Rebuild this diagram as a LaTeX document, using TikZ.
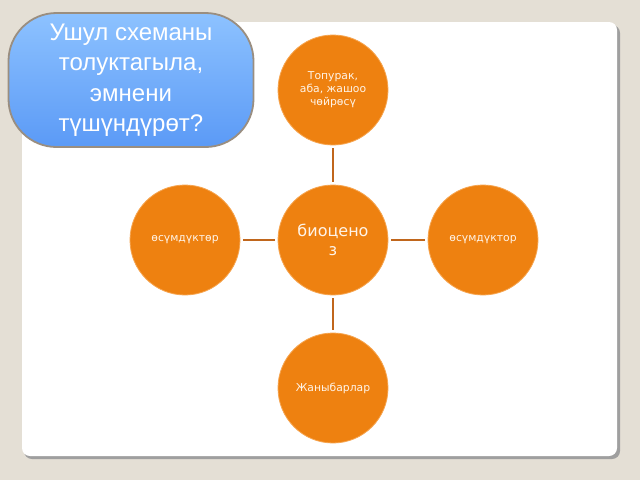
\documentclass[tikz,border=0pt]{standalone}
\usepackage{fontspec}
\setmainfont{DejaVu Sans}
\newfontfamily\calloutfont{Liberation Sans}
\usetikzlibrary{shadings}
\definecolor{bgc}{HTML}{E4DFD5}
\definecolor{orc}{HTML}{EE8110}
\definecolor{orb}{HTML}{F6A550}
\definecolor{lnc}{HTML}{C0661C}
\definecolor{bltop}{HTML}{8DC2FF}
\definecolor{blbot}{HTML}{5B9AF6}
\definecolor{blbd}{HTML}{9A8E80}
\definecolor{txc}{HTML}{FFF4E8}
\tikzset{
  circ/.style={circle, fill=orc, draw=orb, line width=0.8pt, minimum size=110pt, inner sep=0pt, align=center, text=txc, font=\fontsize{10.8}{13}\selectfont},
  conn/.style={draw=lnc, line width=2.6pt}
}
\begin{document}
\begin{tikzpicture}[x=1pt,y=-1pt]
\path[fill=bgc] (0,0) rectangle (640,480);
\useasboundingbox (0,0) rectangle (640,480);
% panel shadow and panel
\path[fill=gray!75, rounded corners=8pt] (24,25) rectangle (620,459);
\path[fill=white, rounded corners=8pt] (22,22) rectangle (617,456);
% circles
\node[circ] (top) at (333,90) {Топурак,\\аба, жашоо\\чөйрөсү};
\node[circ, font=\fontsize{16}{19}\selectfont] (mid) at (333,240) {биоцено\\з};
\node[circ] (left) at (185,240) {өсүмдүктөр};
\node[circ] (right) at (483,240) {өсүмдүктор};
\node[circ] (bot) at (333,388) {Жаныбарлар};
% connectors
\path[conn] ([yshift=-3pt]top.south) -- ([yshift=3pt]mid.north);
\path[conn] ([yshift=3pt]bot.north) -- ([yshift=-3pt]mid.south);
\path[conn] ([xshift=3pt]left.east) -- ([xshift=-3pt]mid.west);
\path[conn] ([xshift=3pt]mid.east) -- ([xshift=-3pt]right.west);
% callout
\node[rounded corners=48pt, top color=bltop, bottom color=blbot, draw=blbd, line width=1.8pt,
  minimum width=245pt, minimum height=134pt, align=center, text=white,
  font=\calloutfont\fontsize{24}{30.5}\selectfont] (q) at (131,80)
  {Ушул схеманы\\толуктагыла,\\эмнени\\түшүндүрөт?};
\end{tikzpicture}
\end{document}
